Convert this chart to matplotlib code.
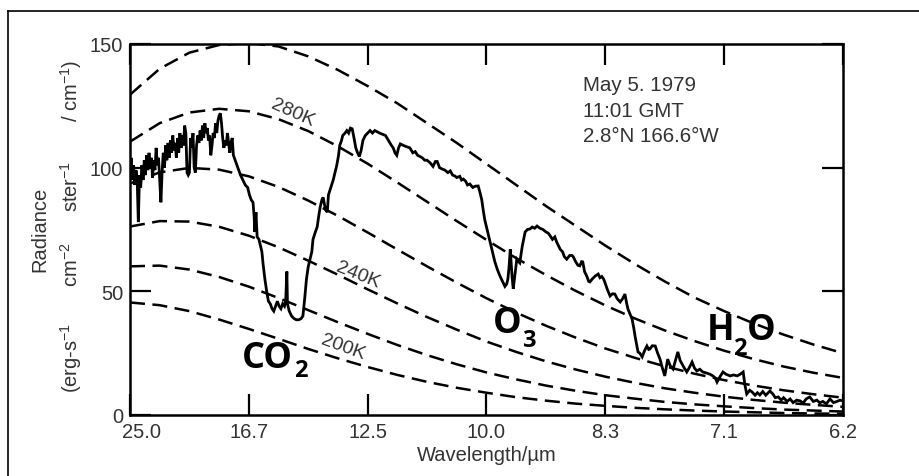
import numpy as np
import matplotlib
matplotlib.use('Agg')
import matplotlib.pyplot as plt
from matplotlib import rcParams
import matplotlib.transforms as mtransforms
from matplotlib.lines import Line2D

#==========================================
'''Figure formatting options'''
#******************************************
rcParams['font.family'] = ['Liberation Sans', 'DejaVu Sans']
rcParams['font.size'] = 14.5
rcParams['mathtext.fontset'] = 'custom'
rcParams['mathtext.rm'] = 'Liberation Sans'
rcParams['mathtext.it'] = 'Liberation Sans:italic'
rcParams['mathtext.bf'] = 'Liberation Sans:bold'
#******************************************
#==========================================

W, H = 920, 477
txtcol = '#333333'

# blackbody reference curves, radiance (erg/s/cm2/sr/cm-1)
bb_nu = [400, 450, 500, 550, 600, 650, 700, 750, 800, 850, 900, 950, 1000,
         1050, 1100, 1150, 1200, 1250, 1300, 1350, 1400, 1450, 1500, 1550, 1600]
bb_300 = [129.5, 140.0, 146.5, 149.6, 150.4, 149.0, 145.0, 139.5, 133.0, 126.0, 118.0, 110.0, 101.5,
          93.0, 84.5, 76.5, 68.5, 61.0, 54.0, 47.5, 42.0, 37.0, 32.5, 28.5, 25.0]
bb_280 = [110.5, 118.0, 122.3, 123.8, 122.8, 119.6, 114.8, 108.6, 101.6, 94.0, 86.2, 78.4, 70.8,
          63.4, 56.6, 50.2, 44.3, 39.0, 34.2, 29.9, 26.0, 22.6, 19.6, 17.1, 15.0]
bb_260 = [93.6, 98.1, 99.9, 99.2, 96.5, 92.2, 86.7, 80.5, 73.8, 66.9, 60.1, 53.5, 47.2,
          41.4, 36.1, 31.3, 26.9, 23.1, 19.7, 16.7, 14.1, 11.9, 10.0, 8.4, 7.0]
bb_240 = [76.2, 78.4, 78.2, 76.1, 72.5, 67.8, 62.4, 56.7, 50.8, 45.1, 39.6, 34.5, 29.7,
          25.5, 21.7, 18.4, 15.5, 13.0, 10.8, 9.0, 7.4, 6.1, 5.0, 4.1, 3.3]
bb_220 = [60.1, 60.4, 58.8, 55.8, 51.9, 47.3, 42.4, 37.5, 32.8, 28.3, 24.2, 20.5, 17.2,
          14.4, 11.9, 9.8, 8.0, 6.6, 5.3, 4.3, 3.5, 2.8, 2.2, 1.8, 1.4]
bb_200 = [45.5, 44.4, 42.0, 38.6, 34.8, 30.8, 26.7, 22.9, 19.4, 16.2, 13.4, 11.0, 9.0,
          7.2, 5.8, 4.6, 3.7, 2.9, 2.3, 1.8, 1.4, 1.1, 0.8, 0.6, 0.5]

# measured spectrum (wavenumber cm-1, radiance)
spec_nu = [400, 402, 404, 406, 408, 410, 412, 414, 416, 418, 420, 422, 424, 426, 428, 430,
           432, 434, 436, 438, 440, 442, 444, 446, 448, 450, 452, 454, 456, 458, 460, 462,
           464, 466, 468, 470, 472, 474, 476, 478, 480, 482, 484, 486, 488, 490, 492, 494,
           496, 498, 500, 502, 504, 506, 508, 510, 512, 514, 516, 518, 520, 522, 524, 526,
           528, 530, 532, 534, 536, 538, 540, 542, 544, 546, 548, 550, 552,
           554, 556, 558, 560, 562, 564, 566, 568, 570, 572, 574, 577, 580, 583, 586, 590,
           594, 598, 601, 604, 607, 609, 610, 612, 614, 617, 620, 622, 624, 627, 630, 633,
           636, 639, 642,
           645, 648, 651, 654, 657, 660, 662, 664, 665, 668, 672, 676, 680, 684, 688, 691,
           694, 697, 700, 703, 706, 708, 712, 715, 718, 720, 723, 725, 729, 732, 734, 738,
           742, 745, 748, 751, 753, 756, 758, 762, 765, 768, 771, 774, 777, 780, 783, 786,
           789, 792, 796, 800, 804, 808, 812, 816, 820, 825, 830, 835, 840, 843, 846, 849,
           852, 855, 860, 865, 871, 876, 880, 884, 888, 892, 896, 900, 905, 910, 914, 917,
           921, 925, 930, 935, 939, 943, 947, 950, 955, 958, 961, 965, 968, 972, 975, 977,
           981, 986, 989, 992, 995, 997, 1002, 1006, 1010, 1014, 1018, 1023, 1027, 1031, 1034, 1036,
           1038, 1040, 1042, 1043, 1045, 1048, 1051, 1054, 1056, 1060, 1065, 1069, 1073, 1077, 1081, 1085,
           1090, 1095, 1100, 1104, 1107, 1111, 1115, 1118, 1121, 1124, 1128, 1131, 1135, 1140, 1144, 1146,
           1150, 1154, 1157, 1160, 1162, 1165, 1169, 1172, 1174, 1178, 1183, 1188, 1191, 1194, 1197, 1199,
           1203, 1208, 1212, 1216, 1220, 1225, 1229, 1233, 1236, 1238, 1242, 1245, 1248, 1250, 1253, 1255,
           1258, 1262, 1266, 1270, 1273, 1275, 1279, 1284, 1288, 1292, 1296, 1300, 1303, 1305, 1309, 1314,
           1318, 1322, 1326, 1331, 1337, 1341, 1346, 1350, 1354, 1359, 1364, 1370, 1376, 1381, 1385, 1388,
           1393, 1398, 1403, 1410, 1416, 1422, 1427, 1432, 1435, 1438, 1443, 1447, 1452, 1456, 1460, 1465,
           1470, 1477, 1482, 1486, 1491, 1496, 1500, 1506, 1511, 1516, 1522, 1528, 1533, 1538, 1544, 1550,
           1556, 1561, 1566, 1572, 1578, 1584, 1590, 1595, 1600]
spec_rad = [98, 104, 95, 101, 93, 99, 96, 78, 97, 92, 101, 95, 103, 97, 105, 99,
            106, 100, 104, 96, 103, 99, 108, 101, 104, 95, 86, 98, 106, 100, 109, 103,
            110, 104, 111, 106, 113, 107, 110, 104, 112, 106, 114, 108, 113, 109, 117, 114,
            98, 97, 98, 112, 108, 114, 100, 98, 109, 113, 110, 115, 111, 117, 112, 118,
            114, 116, 111, 113, 105, 109, 114, 112, 118, 114, 119, 121, 122,
            118, 112, 108, 111, 109, 114, 110, 106, 110, 112, 105, 103, 101, 99, 97, 95,
            93, 92, 89, 87, 86, 80, 74, 82, 72, 71, 68, 66, 61, 55, 50, 46,
            45, 43, 42,
            44, 46, 44, 43, 45, 44, 46, 58, 45, 42, 40, 39, 38.5, 38.5, 39, 40,
            47, 55, 60, 63, 66, 71, 74, 76, 81, 84, 87, 88, 83, 82, 89, 92,
            95, 98, 101, 105, 109, 111, 113, 114, 115, 114, 116, 115.7, 112, 108, 106, 104.5,
            107, 111, 113, 114, 115, 114, 115, 114.5, 114, 113.5, 113, 111, 109, 108, 106, 105,
            108, 109.6, 109, 108.5, 108, 106, 106.5, 105, 104.5, 104, 103, 103, 102, 100.5, 102.5, 102.5,
            100, 99.5, 99, 98, 98.7, 97, 96.6, 96, 96.5, 95, 95.4, 94.5, 93, 93.4, 92.5, 92,
            92.5, 92.6, 90, 87, 82, 79, 74, 70, 66, 62, 59, 56, 54, 52, 53, 55,
            60, 67, 60, 56, 51, 57, 63, 62, 61.5, 68, 74, 75, 75.2, 76, 75.5, 76.4,
            75.5, 75, 74, 73.5, 72.5, 71, 72, 70, 68.5, 67, 66, 64, 63, 64.5, 64.5, 64,
            62, 60.5, 60.3, 62, 61.9, 58, 56, 54, 53.8, 55, 56.2, 57, 55.5, 56, 55, 53.8,
            51, 48.1, 49, 48.9, 47, 45.7, 47, 48.9, 45, 42.9, 40.5, 38.8, 35, 31.9, 28, 25.5,
            25, 23.5, 26, 27.9, 26.5, 26.7, 28, 27.9, 25, 22.6, 19, 15.8, 20, 22.6, 20, 18.6,
            22, 25.5, 22, 19.8, 17.4, 19, 21.4, 19, 17.8, 18.5, 17.4, 17, 16.5, 15.8, 15, 13.3,
            15.5, 17.4, 16.5, 15.8, 16.2, 15.8, 16.5, 17.4, 12, 8.5, 10, 9.3, 8, 9, 8.1, 9.5,
            8, 9.7, 8.5, 7, 7.3, 6, 7, 5.5, 6.5, 5, 6, 5.7, 4.8, 6.5, 7.3, 5.5,
            6, 4.9, 5.5, 4.5, 6.5, 5, 5.5, 6, 5.7]

xtick_nu = [400, 600, 800, 1000, 1200, 1400, 1600]
xtick_labels = ['25.0', '16.7', '12.5', '10.0', '8.3', '7.1', '6.2']
yticks = [0, 50, 100, 150]

fig = plt.figure(figsize=(W/100., H/100.), dpi=100)
ax = fig.add_axes([130./W, 1-416./H, 713./W, 371./H])

for curve in [bb_300, bb_280, bb_260, bb_240, bb_220, bb_200]:
    ax.plot(bb_nu, curve, color='k', lw=1.8, dashes=(6, 3))
ax.plot(spec_nu, spec_rad, color='k', lw=2.0, solid_joinstyle='miter')

ax.set_xlim(400, 1600)
ax.set_ylim(0, 150)
ax.set_xticks(xtick_nu)
ax.set_xticklabels(xtick_labels)
ax.set_yticks(yticks)
ax.tick_params(direction='in', length=15, width=1.6, top=True, right=True,
               labelsize=14.5, pad=5, labelcolor=txtcol)
for sp in ax.spines.values():
    sp.set_linewidth(1.8)

# first x label sits a bit right of the corner
lab = ax.get_xticklabels()[0]
lab.set_transform(lab.get_transform() + mtransforms.ScaledTranslation(0.12, 0, fig.dpi_scale_trans))

ax.set_xlabel(u'Wavelength/\u00b5m', color=txtcol, fontsize=14.5, labelpad=3)

# y label, two columns
def ftext(x, y, s, **kw):
    fig.text(x/W, 1-y/H, s, color=txtcol, fontsize=14.5, rotation=90,
             ha='center', va='center', **kw)

ftext(40, 229, 'Radiance')
ftext(71, 358, r'(erg-s$^{-1}$')
ftext(71, 265, r'cm$^{-2}$')
ftext(71, 186, r'ster$^{-1}$')
ftext(71, 91, r'/ cm$^{-1}$)')

# temperature labels
ax.text(674, 122.5, '280K', rotation=-24, ha='center', va='center', color=txtcol, fontsize=14)
ax.text(784, 57, '240K', rotation=-22, ha='center', va='center', color=txtcol, fontsize=14)
ax.text(758, 27.5, '200K', rotation=-20, ha='center', va='center', color=txtcol, fontsize=14)

ax.text(1162, 137.5, 'May 5. 1979\n11:01 GMT\n2.8\u00b0N 166.6\u00b0W', ha='left', va='top',
        color=txtcol, fontsize=14.8, linespacing=1.45)

# molecule labels
mol = dict(family='Open Sans', weight='bold', color='k')
ax.text(588, 19.4, 'CO', fontsize=26, ha='left', va='baseline', **mol)
ax.text(676, 15.8, '2', fontsize=17, ha='left', va='baseline', **mol)
ax.text(1011, 33.6, 'O', fontsize=26, ha='left', va='baseline', **mol)
ax.text(1060, 27.9, '3', fontsize=17, ha='left', va='baseline', **mol)
ax.text(1371, 30.7, 'H', fontsize=26, ha='left', va='baseline', **mol)
ax.text(1415, 24.7, '2', fontsize=17, ha='left', va='baseline', **mol)
ax.text(1438, 30.7, 'O', fontsize=26, ha='left', va='baseline', **mol)

# outer frame of the scan
fig.add_artist(Line2D([8./W, 8./W], [0, 1-12./H], color='k', lw=1.2, transform=fig.transFigure))
fig.add_artist(Line2D([8./W, 1], [1-12./H, 1-12./H], color='k', lw=1.2, transform=fig.transFigure))

plt.savefig('out.png', dpi=100)
plt.close('all')
